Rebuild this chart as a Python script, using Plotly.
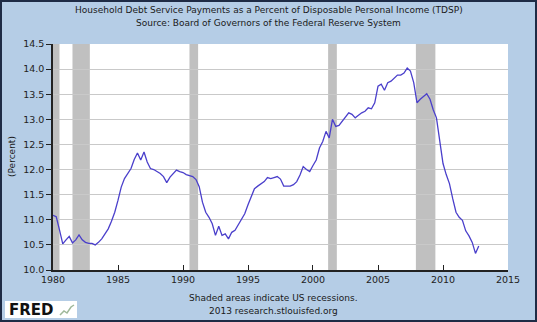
import pandas as pd
import plotly.graph_objects as go

# ---------------- data ----------------
quarters = pd.date_range("1980-01-01", periods=132, freq="QS").strftime("%Y-%m-%d").tolist()
tdsp = [
    11.09, 11.06, 10.80, 10.52,   # 1980
    10.60, 10.67, 10.54, 10.60,   # 1981
    10.70, 10.60, 10.55, 10.53,   # 1982
    10.53, 10.50, 10.55, 10.62,   # 1983
    10.72, 10.82, 10.97, 11.15,   # 1984
    11.39, 11.65, 11.82, 11.92,   # 1985
    12.02, 12.20, 12.33, 12.19,   # 1986
    12.35, 12.15, 12.02, 12.00,   # 1987
    11.96, 11.92, 11.86, 11.74,   # 1988
    11.85, 11.92, 11.99, 11.96,   # 1989
    11.94, 11.90, 11.88, 11.86,   # 1990
    11.80, 11.66, 11.35, 11.15,   # 1991
    11.05, 10.92, 10.69, 10.87,   # 1992
    10.69, 10.72, 10.62, 10.75,   # 1993
    10.79, 10.89, 11.00, 11.12,   # 1994
    11.30, 11.45, 11.62, 11.67,   # 1995
    11.72, 11.76, 11.84, 11.82,   # 1996
    11.84, 11.86, 11.81, 11.67,   # 1997
    11.67, 11.67, 11.70, 11.76,   # 1998
    11.89, 12.06, 12.00, 11.96,   # 1999
    12.08, 12.19, 12.43, 12.56,   # 2000
    12.76, 12.63, 13.00, 12.86,   # 2001
    12.88, 12.96, 13.05, 13.13,   # 2002
    13.10, 13.03, 13.08, 13.13,   # 2003
    13.16, 13.23, 13.21, 13.33,   # 2004
    13.66, 13.70, 13.58, 13.73,   # 2005
    13.76, 13.82, 13.88, 13.88,   # 2006
    13.92, 14.02, 13.96, 13.73,   # 2007
    13.33, 13.40, 13.46, 13.51,   # 2008
    13.40, 13.19, 13.03, 12.59,   # 2009
    12.12, 11.90, 11.72, 11.42,   # 2010
    11.15, 11.05, 10.99, 10.78,   # 2011
    10.68, 10.55, 10.33, 10.48,   # 2012
]
recession_starts = ["1980-01-01", "1981-07-01", "1990-07-01", "2001-03-01", "2007-12-01"]
recession_ends = ["1980-07-01", "1982-11-01", "1991-03-01", "2001-11-01", "2009-06-01"]
y_ticks = [10.0, 10.5, 11.0, 11.5, 12.0, 12.5, 13.0, 13.5, 14.0, 14.5]
x_ticks = ["1980-01-01", "1985-01-01", "1990-01-01", "1995-01-01", "2000-01-01",
           "2005-01-01", "2010-01-01", "2015-01-01"]
x_labels = ["1980", "1985", "1990", "1995", "2000", "2005", "2010", "2015"]

title_lines = ["Household Debt Service Payments as a Percent of Disposable Personal Income (TDSP)",
               "Source: Board of Governors of the Federal Reserve System"]
footer_lines = ["Shaded areas indicate US recessions.", "2013 research.stlouisfed.org"]

# ---------------- figure ----------------
W, H = 537, 322
L, R, T, B = 53, 29, 44, 52
pw, ph = W - L - R, H - T - B

def px(x):
    return (x - L) / pw

def py(y):
    return (H - B - y) / ph

FONT = "DejaVu Sans"
BG = "#B5CDE6"

fig = go.Figure()
fig.add_trace(go.Scatter(x=quarters, y=tdsp, mode="lines",
                         line=dict(color="#4A3FCB", width=1.3), hoverinfo="skip"))

shapes = []
for s, e in zip(recession_starts, recession_ends):
    shapes.append(dict(type="rect", xref="x", yref="paper", x0=s, x1=e, y0=0, y1=1,
                       fillcolor="#C0C0C0", line=dict(width=0), layer="between"))
# outer border
shapes.append(dict(type="rect", xref="paper", yref="paper",
                   x0=px(1), x1=px(W - 1), y0=py(1), y1=py(H - 1),
                   line=dict(color="#1E2B45", width=2), fillcolor="rgba(0,0,0,0)"))
# FRED logo box
shapes.append(dict(type="rect", xref="paper", yref="paper",
                   x0=px(5), x1=px(77), y0=py(301), y1=py(318),
                   line=dict(width=0), fillcolor="white"))
shapes.append(dict(type="path", xref="paper", yref="paper",
                   path="M {} {} L {} {} L {} {} L {} {} L {} {}".format(
                       px(60), py(315), px(64), py(311), px(67), py(313), px(71), py(307), px(74), py(305)),
                   line=dict(color="#9FB89A", width=1.5)))

annotations = []
annotations.append(dict(text=title_lines[0], x=0.5 * (px(0) + px(W)), y=py(10), xref="paper", yref="paper",
                        showarrow=False, font=dict(family=FONT, size=9, color="#1a1a1a"),
                        xanchor="center", yanchor="middle"))
annotations.append(dict(text=title_lines[1], x=0.5 * (px(0) + px(W)), y=py(23), xref="paper", yref="paper",
                        showarrow=False, font=dict(family=FONT, size=9, color="#1a1a1a"),
                        xanchor="center", yanchor="middle"))
annotations.append(dict(text=footer_lines[0], x=px(273), y=py(298), xref="paper", yref="paper",
                        showarrow=False, font=dict(family=FONT, size=9, color="#1a1a1a"),
                        xanchor="center", yanchor="middle"))
annotations.append(dict(text=footer_lines[1], x=px(273), y=py(311), xref="paper", yref="paper",
                        showarrow=False, font=dict(family=FONT, size=9, color="#1a1a1a"),
                        xanchor="center", yanchor="middle"))
annotations.append(dict(text="(Percent)", x=px(12), y=py(157), xref="paper", yref="paper",
                        showarrow=False, textangle=-90, font=dict(family=FONT, size=9, color="#1a1a1a"),
                        xanchor="center", yanchor="middle"))
annotations.append(dict(text="<b>FRED</b>", x=px(7), y=py(310), xref="paper", yref="paper",
                        showarrow=False, font=dict(family=FONT, size=15, color="#111111"),
                        xanchor="left", yanchor="middle"))

fig.update_layout(
    width=W, height=H,
    margin=dict(l=L, r=R, t=T, b=B),
    paper_bgcolor=BG, plot_bgcolor="white",
    showlegend=False,
    shapes=shapes, annotations=annotations,
    font=dict(family=FONT, size=9.5, color="#222222"),
)
fig.update_xaxes(type="date", range=["1980-01-01", "2015-01-01"],
                 tickvals=x_ticks, ticktext=x_labels,
                 showgrid=False, zeroline=False,
                 showline=True, linecolor="#222222", linewidth=1.5,
                 ticks="inside", ticklen=5, tickcolor="#222222", tickwidth=1,
                 tickfont=dict(family=FONT, size=9.5, color="#222222"))
fig.update_yaxes(range=[10.0, 14.5], tickvals=y_ticks,
                 ticktext=["%.1f" % v for v in y_ticks],
                 showgrid=True, gridcolor="#C9C9C9", gridwidth=1, zeroline=False,
                 showline=True, linecolor="#222222", linewidth=1.5,
                 ticks="outside", ticklen=5, tickcolor="#222222", tickwidth=1,
                 tickfont=dict(family=FONT, size=9.5, color="#222222"))

fig.write_html("out.html")
